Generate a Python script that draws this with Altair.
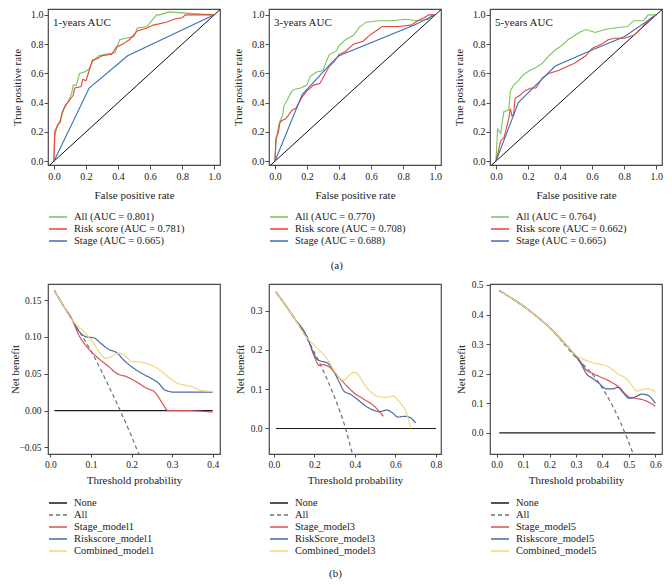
import altair as alt
import pandas as pd

FONT = "Liberation Serif"

# ---------------- ROC data (row a) ----------------
ROC_TICKS = [0.0, 0.2, 0.4, 0.6, 0.8, 1.0]
DIAG = [-0.06, 1.06]
ROC_COLORS = ["#79C35B", "#E8423B", "#3E6EB5"]

a1_names = ["All (AUC = 0.801)", "Risk score (AUC = 0.781)", "Stage (AUC = 0.665)"]
a1_all_x = [0, 0.005, 0.02, 0.04, 0.06, 0.08, 0.11, 0.12, 0.14, 0.16, 0.19, 0.22, 0.24, 0.28,
            0.32, 0.38, 0.41, 0.45, 0.50, 0.52, 0.58, 0.64, 0.66, 0.72, 0.85, 1.0]
a1_all_y = [0, 0.17, 0.24, 0.28, 0.35, 0.39, 0.46, 0.52, 0.52, 0.60, 0.61, 0.63, 0.68, 0.72,
            0.73, 0.74, 0.83, 0.84, 0.85, 0.91, 0.92, 1.0, 1.0, 1.02, 1.01, 1.0]
a1_risk_x = [0, 0.005, 0.02, 0.04, 0.05, 0.07, 0.10, 0.12, 0.13, 0.17, 0.18, 0.20, 0.22, 0.24,
             0.27, 0.30, 0.36, 0.39, 0.43, 0.47, 0.52, 0.58, 0.62, 0.70, 0.75, 0.80, 0.82, 1.0]
a1_risk_y = [0, 0.20, 0.24, 0.27, 0.33, 0.38, 0.42, 0.45, 0.50, 0.51, 0.56, 0.55, 0.62, 0.69,
             0.70, 0.72, 0.73, 0.78, 0.80, 0.83, 0.89, 0.91, 0.93, 0.95, 0.97, 0.98, 1.0, 1.0]
a1_stage_x = [0, 0.22, 0.46, 1.0]
a1_stage_y = [0, 0.50, 0.72, 1.0]

a2_names = ["All (AUC = 0.770)", "Risk score (AUC = 0.708)", "Stage (AUC = 0.688)"]
a2_all_x = [0, 0.006, 0.016, 0.027, 0.047, 0.057, 0.078, 0.10, 0.118, 0.16, 0.20, 0.22, 0.26,
            0.30, 0.32, 0.34, 0.38, 0.40, 0.44, 0.49, 0.53, 0.57, 0.65, 0.73, 0.81, 0.89, 0.96,
            0.98, 1.0]
a2_all_y = [0, 0.11, 0.20, 0.26, 0.31, 0.38, 0.42, 0.47, 0.49, 0.50, 0.52, 0.58, 0.61, 0.62,
            0.68, 0.73, 0.75, 0.79, 0.83, 0.86, 0.92, 0.95, 0.96, 0.96, 0.97, 0.96, 0.97, 1.0,
            1.0]
a2_risk_x = [0, 0.006, 0.02, 0.033, 0.047, 0.067, 0.088, 0.108, 0.13, 0.15, 0.17, 0.20, 0.24,
             0.28, 0.31, 0.34, 0.37, 0.40, 0.44, 0.49, 0.55, 0.59, 0.63, 0.67, 0.77, 0.85, 0.89,
             0.93, 0.96, 1.0]
a2_risk_y = [0, 0.16, 0.19, 0.27, 0.28, 0.29, 0.32, 0.35, 0.36, 0.40, 0.44, 0.48, 0.52, 0.53,
             0.59, 0.65, 0.68, 0.73, 0.75, 0.80, 0.82, 0.86, 0.89, 0.92, 0.92, 0.93, 0.96, 0.98,
             1.0, 1.0]
a2_stage_x = [0, 0.17, 0.36, 0.40, 0.87, 1.0]
a2_stage_y = [0, 0.455, 0.68, 0.72, 0.93, 1.0]

a3_names = ["All (AUC = 0.764)", "Risk score (AUC = 0.662)", "Stage (AUC = 0.665)"]
a3_all_x = [0, 0.006, 0.01, 0.03, 0.04, 0.05, 0.08, 0.09, 0.11, 0.14, 0.17, 0.21, 0.25, 0.29,
            0.33, 0.37, 0.41, 0.45, 0.52, 0.56, 0.62, 0.68, 0.74, 0.82, 0.86, 0.92, 0.95, 1.0]
a3_all_y = [0, 0.12, 0.22, 0.19, 0.27, 0.34, 0.35, 0.48, 0.52, 0.55, 0.59, 0.62, 0.64, 0.67,
            0.72, 0.76, 0.79, 0.83, 0.88, 0.90, 0.88, 0.90, 0.91, 0.92, 0.96, 0.96, 1.0, 1.0]
a3_risk_x = [0, 0.02, 0.03, 0.05, 0.06, 0.08, 0.09, 0.10, 0.11, 0.12, 0.15, 0.18, 0.22, 0.25,
             0.29, 0.33, 0.39, 0.43, 0.49, 0.56, 0.60, 0.66, 0.70, 0.74, 0.80, 0.86, 0.90, 0.94,
             0.97, 1.0]
a3_risk_y = [0, 0.09, 0.14, 0.16, 0.20, 0.29, 0.36, 0.31, 0.32, 0.43, 0.45, 0.48, 0.50, 0.50,
             0.57, 0.60, 0.62, 0.64, 0.67, 0.72, 0.77, 0.80, 0.83, 0.84, 0.84, 0.86, 0.90, 0.95,
             0.98, 1.0]
a3_stage_x = [0, 0.14, 0.37, 0.60, 0.80, 1.0]
a3_stage_y = [0, 0.40, 0.65, 0.76, 0.85, 1.0]

# ---------------- DCA data (row b) ----------------
DCA_COLORS = ["#1a1a1a", "#707070", "#D6535C", "#4A6AA6", "#F2D878"]
DCA_DASH = [[1, 0], [4, 3], [1, 0], [1, 0], [1, 0]]

b1_names = ["None", "All", "Stage_model1", "Riskscore_model1", "Combined_model1"]
b1_none_x = [0.01, 0.40]
b1_none_y = [0.0, 0.0]
b1_all_x = [0.01, 0.05, 0.10, 0.15, 0.172, 0.20, 0.22]
b1_all_y = [0.163, 0.126, 0.081, 0.026, 0.0, -0.035, -0.062]
b1_stage_x = [0.01, 0.03, 0.055, 0.067, 0.094, 0.118, 0.141, 0.165, 0.188, 0.212, 0.235, 0.259,
              0.275, 0.29, 0.33, 0.40]
b1_stage_y = [0.163, 0.144, 0.122, 0.106, 0.084, 0.071, 0.061, 0.050, 0.046, 0.039, 0.031, 0.024,
              0.011, 0.0, 0.0, -0.002]
b1_risk_x = [0.01, 0.03, 0.055, 0.07, 0.09, 0.106, 0.125, 0.141, 0.165, 0.18, 0.204, 0.227,
             0.251, 0.267, 0.282, 0.306, 0.353, 0.40]
b1_risk_y = [0.163, 0.144, 0.122, 0.108, 0.100, 0.099, 0.091, 0.084, 0.078, 0.069, 0.058, 0.050,
             0.043, 0.037, 0.028, 0.025, 0.025, 0.025]
b1_comb_x = [0.01, 0.03, 0.055, 0.078, 0.102, 0.125, 0.137, 0.149, 0.169, 0.18, 0.20, 0.22,
             0.243, 0.267, 0.29, 0.314, 0.345, 0.369, 0.40]
b1_comb_y = [0.163, 0.144, 0.122, 0.110, 0.095, 0.076, 0.071, 0.073, 0.078, 0.076, 0.067, 0.066,
             0.063, 0.056, 0.046, 0.037, 0.033, 0.028, 0.026]

b2_names = ["None", "All", "Stage_model3", "RiskScore_model3", "Combined_model3"]
b2_none_x = [0.01, 0.80]
b2_none_y = [0.0, 0.0]
b2_all_x = [0.01, 0.10, 0.15, 0.20, 0.25, 0.30, 0.354, 0.39]
b2_all_y = [0.348, 0.282, 0.24, 0.194, 0.14, 0.079, 0.0, -0.07]
b2_stage_x = [0.01, 0.10, 0.17, 0.20, 0.225, 0.235, 0.27, 0.306, 0.362, 0.395, 0.443, 0.491, 0.54]
b2_stage_y = [0.348, 0.282, 0.226, 0.183, 0.160, 0.163, 0.158, 0.139, 0.107, 0.091, 0.075, 0.059,
              0.031]
b2_risk_x = [0.01, 0.10, 0.17, 0.193, 0.217, 0.266, 0.29, 0.322, 0.346, 0.378, 0.41, 0.459, 0.50,
             0.523, 0.556, 0.588, 0.612, 0.644, 0.668, 0.70]
b2_risk_y = [0.348, 0.282, 0.226, 0.195, 0.175, 0.166, 0.151, 0.119, 0.095, 0.087, 0.075, 0.055,
             0.045, 0.043, 0.047, 0.039, 0.029, 0.031, 0.029, 0.014]
b2_comb_x = [0.01, 0.10, 0.161, 0.20, 0.233, 0.266, 0.298, 0.346, 0.37, 0.395, 0.419, 0.443,
             0.475, 0.507, 0.556, 0.588, 0.62, 0.652, 0.676]
b2_comb_y = [0.348, 0.282, 0.232, 0.212, 0.195, 0.175, 0.147, 0.123, 0.135, 0.143, 0.135, 0.115,
             0.095, 0.083, 0.079, 0.083, 0.067, 0.043, 0.0]

b3_names = ["None", "All", "Stage_model5", "Riskscore_model5", "Combined_model5"]
b3_none_x = [0.01, 0.60]
b3_none_y = [0.0, 0.0]
b3_all_x = [0.01, 0.10, 0.20, 0.293, 0.378, 0.439, 0.485, 0.518]
b3_all_y = [0.481, 0.428, 0.356, 0.261, 0.18, 0.09, 0.0, -0.075]
b3_stage_x = [0.01, 0.05, 0.10, 0.15, 0.20, 0.25, 0.28, 0.30, 0.318, 0.336, 0.354, 0.39, 0.427,
              0.463, 0.50, 0.524, 0.56, 0.60]
b3_stage_y = [0.481, 0.459, 0.43, 0.395, 0.356, 0.31, 0.28, 0.26, 0.24, 0.215, 0.205, 0.19, 0.175,
              0.154, 0.122, 0.117, 0.11, 0.09]
b3_risk_x = [0.01, 0.05, 0.10, 0.15, 0.20, 0.25, 0.28, 0.30, 0.318, 0.342, 0.36, 0.384, 0.415,
             0.439, 0.457, 0.481, 0.50, 0.524, 0.548, 0.572, 0.60]
b3_risk_y = [0.481, 0.459, 0.43, 0.395, 0.356, 0.31, 0.28, 0.258, 0.235, 0.197, 0.186, 0.17, 0.149,
             0.149, 0.154, 0.133, 0.117, 0.122, 0.131, 0.127, 0.10]
b3_comb_x = [0.01, 0.05, 0.10, 0.15, 0.20, 0.25, 0.28, 0.30, 0.318, 0.354, 0.378, 0.415, 0.439,
             0.463, 0.487, 0.512, 0.53, 0.548, 0.572, 0.60]
b3_comb_y = [0.481, 0.459, 0.43, 0.395, 0.356, 0.31, 0.28, 0.262, 0.253, 0.24, 0.234, 0.227,
             0.213, 0.197, 0.186, 0.16, 0.141, 0.146, 0.149, 0.138]

# ---------------- layout ----------------
W = 172
H_A = 156
H_B = 170
GAP = 49


def long_df(names, series):
    rows = []
    for name, (xs, ys) in zip(names, series):
        for i, (xv, yv) in enumerate(zip(xs, ys)):
            rows.append({"series": name, "x": xv, "y": yv, "i": i})
    return pd.DataFrame(rows)


def roc_panel(label, names, series, xdom, ydom):
    df = long_df(names, series)
    xenc = alt.X("x:Q", scale=alt.Scale(domain=xdom, nice=False, zero=False),
                 axis=alt.Axis(title="False positive rate", values=ROC_TICKS, format=".1f",
                               tickSize=4, labelPadding=2, titlePadding=8, labelFontSize=10))
    yenc = alt.Y("y:Q", scale=alt.Scale(domain=ydom, nice=False, zero=False),
                 axis=alt.Axis(title="True positive rate", values=ROC_TICKS, format=".1f",
                               tickSize=4, labelPadding=1, minExtent=19, maxExtent=19,
                               titlePadding=7, labelFontSize=10))
    diag = alt.Chart(pd.DataFrame({"x": DIAG, "y": DIAG})).mark_line(
        color="#111111", strokeWidth=1, clip=True).encode(x=xenc, y=yenc)
    lines = alt.Chart(df).mark_line(strokeWidth=1.1, clip=True).encode(
        x=xenc, y=yenc, order="i:Q",
        color=alt.Color("series:N", scale=alt.Scale(domain=names, range=ROC_COLORS),
                        legend=alt.Legend(title=None, orient="none", legendX=0,
                                          legendY=H_A + 46)))
    return alt.layer(diag, lines).properties(
        width=W, height=H_A,
        title=alt.TitleParams(label, orient="top", anchor="start", frame="group",
                              offset=-19, dx=5, fontSize=11, font=FONT,
                              fontWeight="normal", color="#222222"))


def dca_panel(names, series, xdom, ydom, xticks, yticks, yfmt, yext, ypad):
    df = long_df(names, series)
    xenc = alt.X("x:Q", scale=alt.Scale(domain=xdom, nice=False, zero=False),
                 axis=alt.Axis(title="Threshold probability", values=xticks, format=".1f",
                               tickSize=3, labelPadding=2, titlePadding=6, labelFontSize=9.5))
    yenc = alt.Y("y:Q", scale=alt.Scale(domain=ydom, nice=False, zero=False),
                 axis=alt.Axis(title="Net benefit", values=yticks, format=yfmt,
                               tickSize=4, labelPadding=3, minExtent=yext, maxExtent=yext,
                               titlePadding=ypad, labelFontSize=9.5))
    leg = alt.Legend(title=None, orient="none", legendX=0, legendY=H_B + 43)
    return alt.Chart(df).mark_line(strokeWidth=1.2, clip=True, interpolate="monotone").encode(
        x=xenc, y=yenc, order="i:Q",
        color=alt.Color("series:N", scale=alt.Scale(domain=names, range=DCA_COLORS), legend=leg),
        strokeDash=alt.StrokeDash("series:N", scale=alt.Scale(domain=names, range=DCA_DASH),
                                  legend=leg),
    ).properties(width=W, height=H_B)


a1 = roc_panel("1-years AUC", a1_names,
               [(a1_all_x, a1_all_y), (a1_risk_x, a1_risk_y), (a1_stage_x, a1_stage_y)],
               [-0.037, 1.036], [-0.026, 1.04])
a2 = roc_panel("3-years AUC", a2_names,
               [(a2_all_x, a2_all_y), (a2_risk_x, a2_risk_y), (a2_stage_x, a2_stage_y)],
               [-0.037, 1.036], [-0.026, 1.04])
a3 = roc_panel("5-years AUC", a3_names,
               [(a3_all_x, a3_all_y), (a3_risk_x, a3_risk_y), (a3_stage_x, a3_stage_y)],
               [-0.037, 1.036], [-0.026, 1.04])

b1 = dca_panel(b1_names,
               [(b1_none_x, b1_none_y), (b1_all_x, b1_all_y), (b1_stage_x, b1_stage_y),
                (b1_risk_x, b1_risk_y), (b1_comb_x, b1_comb_y)],
               [-0.006, 0.418], [-0.059, 0.172], [0.0, 0.1, 0.2, 0.3, 0.4],
               [-0.05, 0.0, 0.05, 0.10, 0.15], ".2f", 27, 1)
b2 = dca_panel(b2_names,
               [(b2_none_x, b2_none_y), (b2_all_x, b2_all_y), (b2_stage_x, b2_stage_y),
                (b2_risk_x, b2_risk_y), (b2_comb_x, b2_comb_y)],
               [-0.024, 0.825], [-0.065, 0.368], [0.0, 0.2, 0.4, 0.6, 0.8],
               [0.0, 0.1, 0.2, 0.3], ".1f", 20, 4)
b3 = dca_panel(b3_names,
               [(b3_none_x, b3_none_y), (b3_all_x, b3_all_y), (b3_stage_x, b3_stage_y),
                (b3_risk_x, b3_risk_y), (b3_comb_x, b3_comb_y)],
               [-0.025, 0.625], [-0.071, 0.503], [0.0, 0.1, 0.2, 0.3, 0.4, 0.5, 0.6],
               [0.0, 0.1, 0.2, 0.3, 0.4, 0.5], ".1f", 20, 4)

row_a = alt.hconcat(a1, a2, a3, spacing=GAP, bounds="flush").resolve_scale(
    color="independent").properties(
    title=alt.TitleParams("(a)", orient="bottom", anchor="middle", offset=12, fontSize=11,
                          font=FONT, fontWeight="normal", color="#222222"))
row_b = alt.hconcat(b1, b2, b3, spacing=GAP, bounds="flush").resolve_scale(
    color="independent", strokeDash="independent").properties(
    title=alt.TitleParams("(b)", orient="bottom", anchor="middle", offset=10, fontSize=11,
                          font=FONT, fontWeight="normal", color="#222222"))

chart = alt.vconcat(row_a, row_b, spacing=8).properties(padding=0).configure_view(
    stroke="#4a4a4a", strokeWidth=1.2
).configure_axis(
    labelFont=FONT, titleFont=FONT, titleFontSize=11, titleFontWeight="normal",
    labelColor="#222222", titleColor="#222222", tickColor="#4a4a4a", domain=False, grid=False
).configure_legend(
    labelFont=FONT, labelFontSize=10.5, labelColor="#222222", symbolType="stroke",
    symbolStrokeWidth=1.3, symbolSize=324, labelOffset=6, clipHeight=12, rowPadding=0,
    padding=0
)

chart.save("out.html", embed_options={"renderer": "svg", "actions": False})
